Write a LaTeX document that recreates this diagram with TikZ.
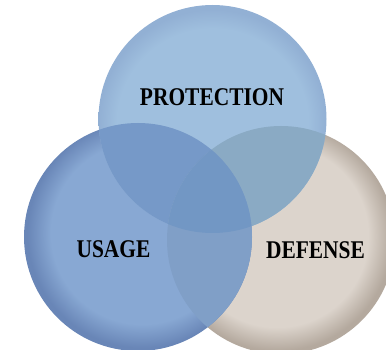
\documentclass[tikz,border=0pt]{standalone}
\usepackage{fontspec}
\setmainfont{Liberation Serif}
\definecolor{topc}{HTML}{9FBFDE}
\definecolor{tope}{HTML}{92B0D4}
\definecolor{leftc}{HTML}{88A8D3}
\definecolor{lefte}{HTML}{6986B7}
\definecolor{rightc}{HTML}{DCD4CC}
\definecolor{righte}{HTML}{B4A99E}
\definecolor{tlc}{HTML}{7699C8}
\definecolor{trc}{HTML}{8AAAC4}
\definecolor{lrc}{HTML}{809FC7}
\definecolor{allc}{HTML}{7297C4}
\pgfdeclareradialshading{topshade}{\pgfpoint{0bp}{-2bp}}{color(0bp)=(topc); color(21bp)=(topc); color(25bp)=(tope); color(50bp)=(tope)}
\pgfdeclareradialshading{leftshade}{\pgfpoint{1.5bp}{1.5bp}}{color(0bp)=(leftc); color(20bp)=(leftc); color(25bp)=(lefte); color(50bp)=(lefte)}
\pgfdeclareradialshading{rightshade}{\pgfpoint{-1.5bp}{1.5bp}}{color(0bp)=(rightc); color(20bp)=(rightc); color(25bp)=(righte); color(50bp)=(righte)}
\begin{document}
\begin{tikzpicture}[x=1pt,y=-1pt,
  venn/.style={circle,minimum size=228pt,inner sep=0pt},
  lab/.style={font=\bfseries\fontsize{25.5}{25.5}\selectfont,inner sep=0pt,xscale=0.84,text=black}]
\useasboundingbox (0,0) rectangle (386,350);
\fill[white] (0,0) rectangle (386,350);
\coordinate (P) at (212.5,119);
\coordinate (L) at (138,237);
\coordinate (R) at (281,240);
\node[venn,shading=rightshade] (rc) at (R) {};
\node[venn,shading=leftshade] (lc) at (L) {};
\node[venn,shading=topshade] (pc) at (P) {};
\begin{scope}
  \clip (P) circle (114pt);
  \fill[tlc] (L) circle (114pt);
\end{scope}
\begin{scope}
  \clip (P) circle (114pt);
  \fill[trc] (R) circle (114pt);
\end{scope}
\begin{scope}
  \clip (L) circle (114pt);
  \fill[lrc] (R) circle (114pt);
\end{scope}
\begin{scope}
  \clip (P) circle (114pt);
  \clip (L) circle (114pt);
  \fill[allc] (R) circle (114pt);
\end{scope}
\node[lab] (ptext) at (212,97.5) {PROTECTION};
\node[lab] (utext) at (113.5,249.5) {USAGE};
\node[lab] (dtext) at (315.5,250.5) {DEFENSE};
\end{tikzpicture}
\end{document}
